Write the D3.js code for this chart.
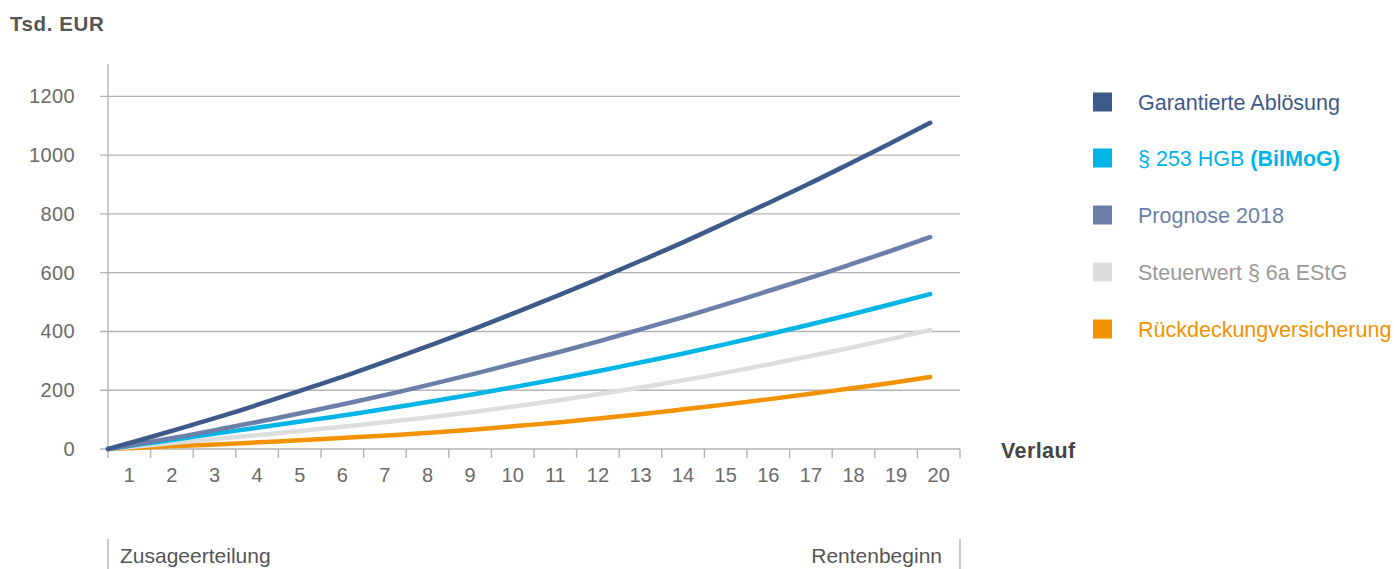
<!DOCTYPE html>
<html><head><meta charset="utf-8">
<script src="https://cdn.jsdelivr.net/npm/d3@7"></script>
<style>
body{margin:0;background:#fff;}
svg{display:block;}
</style></head>
<body><svg id="c" width="1394" height="569"></svg>
<script>
const periods = d3.range(0, 21);
const axisLabels = ["1","2","3","4","5","6","7","8","9","10","11","12","13","14","15","16","17","18","19","20"];
const yTicks = [0, 200, 400, 600, 800, 1000, 1200];
const garantiert = [0,39,80,122,167,213,260,310,361,414,469,525,583,643,704,768,833,899,968,1038,1110];
const prognose = [0,24,48,75,102,131,161,192,225,259,295,331,369,409,449,491,535,579,625,672,721];
const hgb = [0,20,40,60,80,100,120,142,165,189,214,240,267,296,325,356,388,421,455,491,527];
const steuer = [0,13,26,39,52,66,80,95,111,128,147,167,188,210,234,259,286,314,343,373,405];
const rueck = [0,6,12,18,25,32,40,48,57,67,79,91,105,119,135,151,168,186,205,224,245];
const seriesNames = ["Garantierte Ablösung","§ 253 HGB (BilMoG)","Prognose 2018","Steuerwert § 6a EStG","Rückdeckungversicherung"];
const seriesColors = ["#3d5a8a","#00b4e6","#6b7fa8","#dcdddd","#f39200"];
const textColors = ["#3d5a8a","#00b4e6","#6b7fa8","#9a9a9a","#f39200"];
const seriesData = [garantiert, hgb, prognose, steuer, rueck];

const svg = d3.select("#c");
const x0 = 108, x1 = 960, yTop = 64, yBase = 449;
const x = d3.scaleBand().domain(axisLabels).range([x0, x1]).paddingInner(0).paddingOuter(0);
const xLin = d3.scaleLinear().domain([0, 20]).range([x0, x1]);
const tLine = d3.scaleLinear().domain([0, 20]).range([xLin(0), xLin(19.3)]);
const y = d3.scaleLinear().domain([0, 1310]).range([yBase, yTop]);
const gridColor = "#b3b3b3";
const font = "'Liberation Sans', Arial, sans-serif";

// title
svg.append("text").attr("x", 10).attr("y", 31).text("Tsd. EUR")
  .attr("font-family", font).attr("font-weight", "bold").attr("font-size", 20.5)
  .attr("letter-spacing", 0.6).attr("fill", "#555");

// gridlines
svg.append("g").selectAll("line").data(yTicks).join("line")
  .attr("x1", x0 - 8).attr("x2", x1).attr("y1", d => y(d)).attr("y2", d => y(d))
  .attr("stroke", gridColor).attr("stroke-width", 1.4);
// y axis line
svg.append("line").attr("x1", x0).attr("x2", x0).attr("y1", yTop).attr("y2", yBase + 9)
  .attr("stroke", gridColor).attr("stroke-width", 1.4);
// x ticks
svg.append("g").selectAll("line").data(d3.range(1, 21)).join("line")
  .attr("x1", d => xLin(d)).attr("x2", d => xLin(d)).attr("y1", yBase).attr("y2", yBase + 9)
  .attr("stroke", gridColor).attr("stroke-width", 1.4);
// y labels
svg.append("g").selectAll("text").data(yTicks).join("text")
  .attr("x", 75).attr("y", d => y(d) + 7).attr("text-anchor", "end")
  .attr("font-family", font).attr("font-size", 20).attr("letter-spacing", 0.4)
  .attr("fill", "#6a6a6a").text(d => d);
// x labels
svg.append("g").selectAll("text").data(axisLabels).join("text")
  .attr("x", d => x(d) + x.bandwidth() / 2).attr("y", 482).attr("text-anchor", "middle")
  .attr("font-family", font).attr("font-size", 20).attr("fill", "#6a6a6a").text(d => d);

svg.append("text").attr("x", 1001).attr("y", 458).text("Verlauf")
  .attr("font-family", font).attr("font-weight", "bold").attr("font-size", 21.5)
  .attr("letter-spacing", 0.4).attr("fill", "#444");

// bottom markers
[x0, x1].forEach(xx => svg.append("line").attr("x1", xx).attr("x2", xx).attr("y1", 539).attr("y2", 569)
  .attr("stroke", gridColor).attr("stroke-width", 1.4));
svg.append("text").attr("x", 120).attr("y", 563).text("Zusageerteilung")
  .attr("font-family", font).attr("font-size", 21).attr("fill", "#555");
svg.append("text").attr("x", 942).attr("y", 563).attr("text-anchor", "end").text("Rentenbeginn")
  .attr("font-family", font).attr("font-size", 21).attr("fill", "#555");

// lines
const line = d3.line().x((d, i) => tLine(periods[i])).y(d => y(d)).curve(d3.curveMonotoneX);
const drawOrder = [4, 3, 1, 2, 0];
svg.append("g").selectAll("path").data(drawOrder).join("path")
  .attr("d", k => line(seriesData[k])).attr("fill", "none")
  .attr("stroke", k => seriesColors[k]).attr("stroke-width", 4.5)
  .attr("stroke-linecap", "round").attr("stroke-linejoin", "round");

// legend
const legendY = [102, 158, 215, 272, 329];
const lg = svg.append("g");
seriesNames.forEach((name, i) => {
  lg.append("rect").attr("x", 1093).attr("y", legendY[i] - 9.5).attr("width", 19).attr("height", 19)
    .attr("fill", seriesColors[i]);
  const t = lg.append("text").attr("x", 1138).attr("y", legendY[i] + 8)
    .attr("font-family", font).attr("font-size", 21.5).attr("fill", textColors[i]);
  if (name.includes("(BilMoG)")) {
    t.append("tspan").text("§ 253 HGB ");
    t.append("tspan").attr("font-weight", "bold").text("(BilMoG)");
  } else {
    t.text(name);
  }
});
</script></body></html>
